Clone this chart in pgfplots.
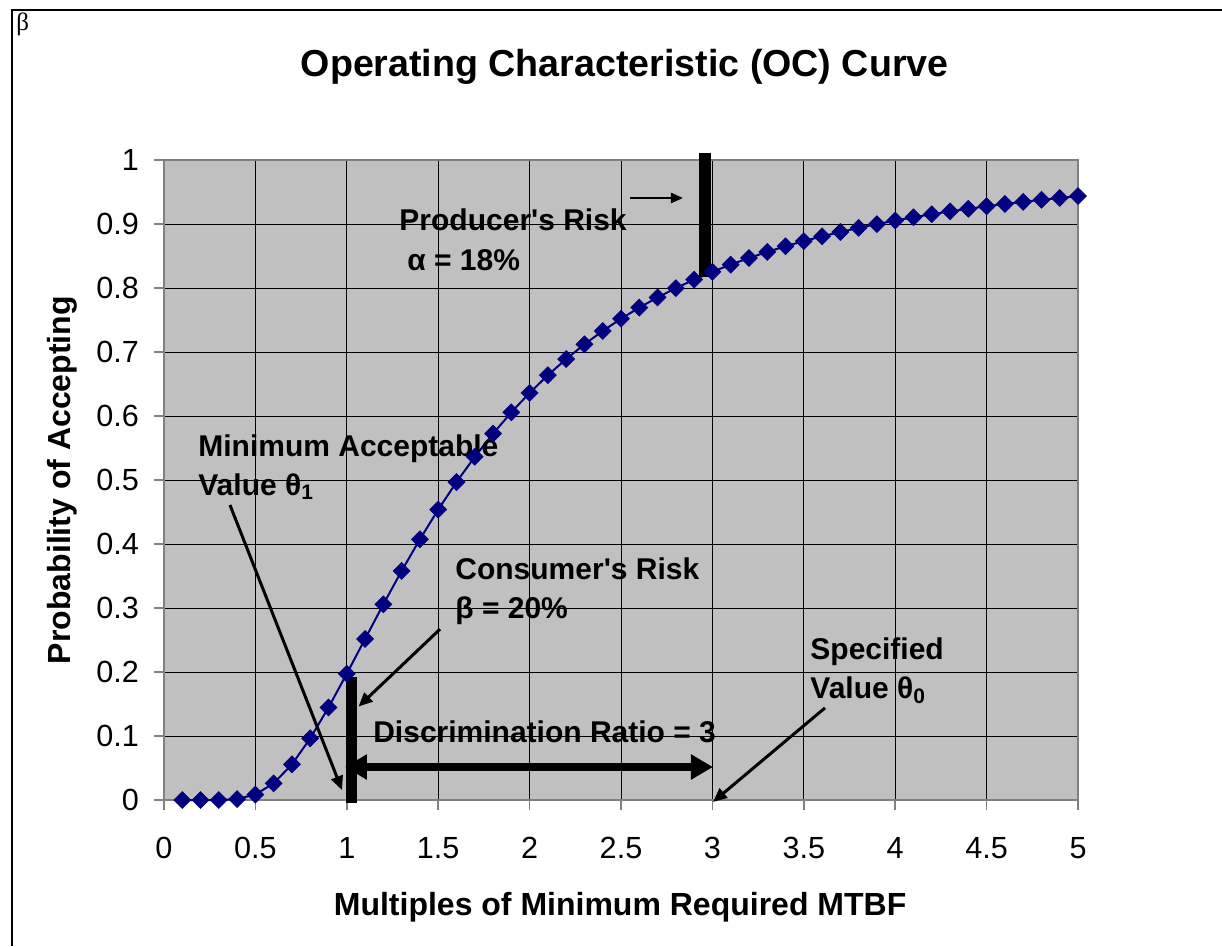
\documentclass[border=0pt]{standalone}
\usepackage{fontspec}
\setmainfont{Liberation Sans}
\newfontfamily\serif{Liberation Serif}
\usepackage{pgfplots}
\pgfplotsset{compat=1.18}
\usetikzlibrary{arrows.meta}
\definecolor{ocnavy}{HTML}{000080}
\definecolor{plotgray}{HTML}{C0C0C0}
\definecolor{framegray}{HTML}{808080}
\newcommand{\tickfont}{\fontsize{15.3bp}{18bp}\selectfont}
\newcommand{\annfont}{\fontsize{15bp}{18bp}\selectfont\bfseries}
\newcommand{\labfont}{\fontsize{16bp}{19bp}\selectfont\bfseries}

\begin{document}
\begin{tikzpicture}
\begin{axis}[
  scale only axis, width=457bp, height=320bp,
  xmin=0, xmax=5, ymin=0, ymax=1,
  xtick={0,0.5,1,1.5,2,2.5,3,3.5,4,4.5,5},
  ytick={0,0.1,0.2,0.3,0.4,0.5,0.6,0.7,0.8,0.9,1},
  xticklabels={0,0.5,1,1.5,2,2.5,3,3.5,4,4.5,5},
  yticklabels={0,0.1,0.2,0.3,0.4,0.5,0.6,0.7,0.8,0.9,1},
  tick pos=left,
  tick align=outside, major tick length=5bp,
  tick style={framegray, line width=0.8bp},
  xticklabel style={font=\tickfont, yshift=-10bp},
  yticklabel style={font=\tickfont, xshift=-4bp},
  grid=major, major grid style={black, line width=0.5bp},
  axis line style={framegray, line width=1bp},
  axis background/.style={fill=plotgray},
  clip=false,
]
\addplot[ocnavy, line width=1bp, mark=square*, mark size=3bp,
  mark options={rotate=45, fill=ocnavy, draw=ocnavy, line width=0.3bp}] coordinates {
  (0.1,0.0000) (0.2,0.0000) (0.3,0.0001) (0.4,0.0015) (0.5,0.0086)
  (0.6,0.0261) (0.7,0.0558) (0.8,0.0964) (0.9,0.1447) (1.0,0.1974)
  (1.1,0.2517) (1.2,0.3058) (1.3,0.3580) (1.4,0.4074) (1.5,0.4538)
  (1.6,0.4967) (1.7,0.5363) (1.8,0.5725) (1.9,0.6058) (2.0,0.6361)
  (2.1,0.6638) (2.2,0.6890) (2.3,0.7120) (2.4,0.7329) (2.5,0.7520)
  (2.6,0.7694) (2.7,0.7853) (2.8,0.7998) (2.9,0.8131) (3.0,0.8253)
  (3.1,0.8365) (3.2,0.8469) (3.3,0.8564) (3.4,0.8652) (3.5,0.8733)
  (3.6,0.8807) (3.7,0.8875) (3.8,0.8940) (3.9,0.8998) (4.0,0.9054)
  (4.1,0.9105) (4.2,0.9153) (4.3,0.9197) (4.4,0.9238) (4.5,0.9277)
  (4.6,0.9313) (4.7,0.9346) (4.8,0.9378) (4.9,0.9407) (5.0,0.9437)};

% producer's risk
\draw[black, line width=6bp] (axis cs:2.960,0.817) -- (axis cs:2.960,1.011);
\draw[black, line width=1.2bp, -{Triangle[length=6bp,width=5bp]}] (axis cs:2.549,0.9406) -- (axis cs:2.839,0.9406);
\node[anchor=base west, inner sep=0pt, font=\annfont] at (axis cs:1.286,0.8906) {Producer\textquotesingle s Risk};
\node[anchor=base west, inner sep=0pt, font=\annfont] at (axis cs:1.329,0.8266) {α = 18\%};

% consumer's risk
\draw[black, line width=5.5bp] (axis cs:1.028,-0.005) -- (axis cs:1.028,0.192);
\draw[black, line width=1.5bp, -{Triangle[length=7bp,width=6bp]}] (axis cs:1.510,0.267) -- (axis cs:1.064,0.146);
\node[anchor=base west, inner sep=0pt, font=\annfont] at (axis cs:1.592,0.345) {Consumer\textquotesingle s Risk};
\node[anchor=base west, inner sep=0pt, font=\annfont] at (axis cs:1.592,0.284) {β = 20\%};

% minimum acceptable value
\draw[black, line width=1.5bp, -{Triangle[length=7bp,width=6bp]}] (axis cs:0.361,0.461) -- (axis cs:0.974,0.0156);
\node[anchor=base west, inner sep=0pt, font=\annfont] at (axis cs:0.186,0.536) {Minimum Acceptable};
\node[anchor=base west, inner sep=0pt, font=\annfont] at (axis cs:0.186,0.4766) {Value θ\textsubscript{1}};

% specified value
\draw[black, line width=1.5bp, -{Triangle[length=7bp,width=6bp]}] (axis cs:3.616,0.144) -- (axis cs:3.003,-0.003);
\node[anchor=base west, inner sep=0pt, font=\annfont] at (axis cs:3.534,0.220) {Specified};
\node[anchor=base west, inner sep=0pt, font=\annfont] at (axis cs:3.534,0.158) {Value θ\textsubscript{0}};

% discrimination ratio
\draw[black, line width=4bp, {Triangle[length=11bp,width=12bp]}-{Triangle[length=11bp,width=12bp]}] (axis cs:0.99,0.0516) -- (axis cs:3.003,0.0516);
\node[anchor=base west, inner sep=0pt, font=\annfont] at (axis cs:1.143,0.0906) {Discrimination Ratio = 3};

% titles
\node[anchor=base, inner sep=0pt, font=\fontsize{18.8bp}{22bp}\selectfont\bfseries] at (rel axis cs:0.504,1.1297) {Operating Characteristic (OC) Curve};
\node[anchor=base, inner sep=0pt, font=\labfont] at (rel axis cs:0.499,-0.181) {Multiples of Minimum Required MTBF};
\node[anchor=base, inner sep=0pt, rotate=90, font=\labfont] at (rel axis cs:-0.1028,0.5) {Probability of Accepting};
\node[anchor=base west, inner sep=0pt, font=\serif\fontsize{12.5bp}{14bp}\selectfont] at (rel axis cs:-0.1620,1.2016) {β};

% chart frame and page box
\coordinate (bbsw) at (rel axis cs:-0.1794,-0.2281);
\coordinate (bbne) at (rel axis cs:1.1575,1.25);
\draw[black, line width=1bp] (rel axis cs:-0.1663,-0.2281) -- (rel axis cs:-0.1663,1.234) -- (rel axis cs:1.1575,1.234);
\end{axis}
\pgfresetboundingbox
\useasboundingbox (bbsw) rectangle (bbne);
\end{tikzpicture}
\end{document}
